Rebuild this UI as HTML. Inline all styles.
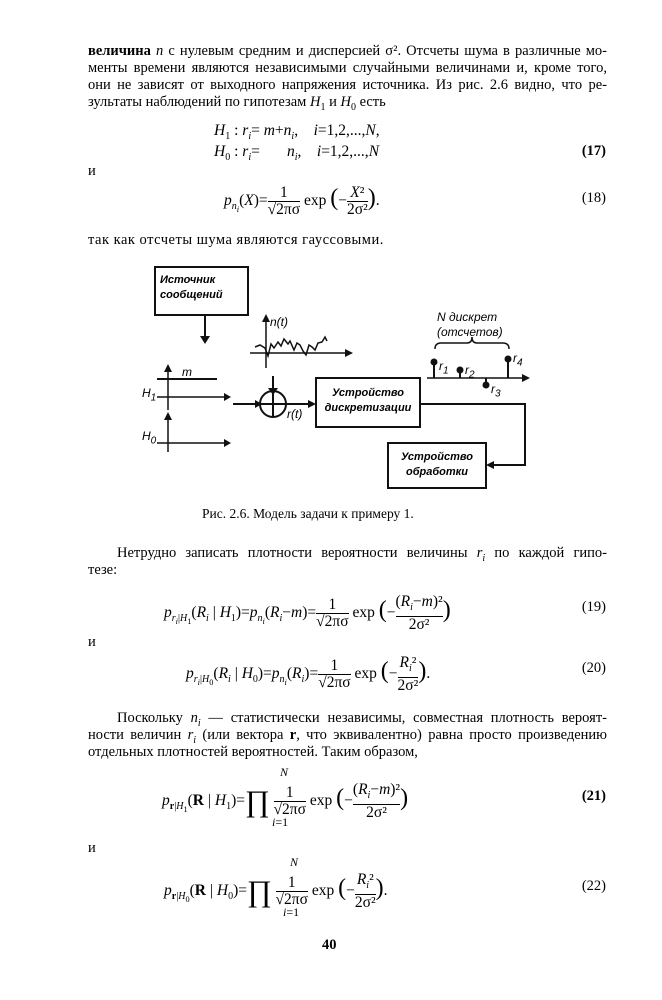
<!DOCTYPE html>
<html><head><meta charset="utf-8"><style>
body{margin:0;background:#fff;}
#p{position:relative;width:662px;height:1000px;overflow:hidden;font-family:"Liberation Serif",serif;color:#000;font-size:14.5px;}
.l{position:absolute;left:88px;width:519px;text-align:justify;text-align-last:justify;white-space:nowrap;line-height:17px;}
.t{position:absolute;white-space:nowrap;line-height:17px;}
.m{font-size:15.5px}
i{font-style:italic}
.f{font-size:10px}
.d{font-family:"Liberation Sans",sans-serif;font-style:italic;font-weight:bold;font-size:11px;}
.fr{display:inline-block;vertical-align:middle;text-align:center;line-height:16px}
.fr span{border-top:1px solid #000;display:block}
</style></head><body><div id="p">
<div class="l" style="top:43px"><b>величина</b> <i>n</i> с нулевым средним и дисперсией σ². Отсчеты шума в различные мо-</div>
<div class="l" style="top:60px">менты времени являются независимыми случайными величинами и, кроме того,</div>
<div class="l" style="top:77px">они не зависят от выходного напряжения источника. Из рис. 2.6 видно, что ре-</div>
<div class="t" style="top:94px;left:88px">зультаты наблюдений по гипотезам <i>H</i><sub class="f">1</sub> и <i>H</i><sub class="f">0</sub> есть</div>
<div class="t m" style="top:122px;left:214px"><i>H</i><sub class="f">1</sub> : <i>r<sub class="f">i</sub></i>= <i>m</i>+<i>n<sub class="f">i</sub></i>,&nbsp;&nbsp;&nbsp; <i>i</i>=1,2,...,<i>N</i>,</div>
<div class="t m" style="top:143px;left:214px"><i>H</i><sub class="f">0</sub> : <i>r<sub class="f">i</sub></i>=&nbsp;&nbsp;&nbsp;&nbsp;&nbsp;&nbsp; <i>n<sub class="f">i</sub></i>,&nbsp;&nbsp;&nbsp; <i>i</i>=1,2,...,<i>N</i></div>
<div class="t" style="top:143px;right:56px"><b>(17)</b></div>
<div class="t" style="top:163px;left:88px">и</div>
<div class="t m" style="top:185px;left:224px"><i>p<sub class="f">n<sub>i</sub></sub></i>(<i>X</i>)=<span class="fr">1<span>√2πσ</span></span> exp <span style="font-size:24px">(</span>−<span class="fr"><i>X</i>²<span>2σ²</span></span><span style="font-size:24px">)</span>.</div>
<div class="t" style="top:190px;right:56px">(18)</div>
<div class="t" style="top:232px;left:88px;letter-spacing:0.5px">так как отсчеты шума являются гауссовыми.</div>

<svg style="position:absolute;left:0;top:0" width="662" height="1000">
<g stroke="#111" fill="none" stroke-width="2">
<rect x="155" y="267" width="93" height="48"/>
<line x1="205" y1="315" x2="205" y2="338"/>
<rect x="316" y="378" width="104" height="49"/>
<rect x="388" y="443" width="98" height="45"/>
<circle cx="273" cy="404" r="13"/>
<line x1="260" y1="404" x2="286" y2="404"/><line x1="273" y1="391" x2="273" y2="417"/>
<line x1="233" y1="404" x2="258" y2="404"/>
<line x1="273" y1="376" x2="273" y2="389"/>
<line x1="286" y1="404" x2="314" y2="404"/>
<polyline points="420,404 525,404 525,465 490,465"/>
<line x1="157" y1="379" x2="217" y2="379"/>
<line stroke-width="1.5" x1="168" y1="410" x2="168" y2="370"/>
<line stroke-width="1.5" x1="157" y1="397" x2="228" y2="397"/>
<line stroke-width="1.5" x1="168" y1="452" x2="168" y2="418"/>
<line stroke-width="1.5" x1="157" y1="443" x2="228" y2="443"/>
<line stroke-width="1.5" x1="266" y1="368" x2="266" y2="318"/>
<line stroke-width="1.5" x1="250" y1="353" x2="350" y2="353"/>
<polyline stroke-width="1.5" points="255,347 260,345 265,348 268,356 271,344 274,348 278,342 281,346 284,339 288,344 290,341 294,350 297,343 300,345 303,351 306,355 309,345 312,347 315,350 318,343 322,342 325,337 327,341"/>
<line stroke-width="1.5" x1="427" y1="378" x2="526" y2="378"/>
<line x1="434" y1="378" x2="434" y2="363"/><line x1="460" y1="378" x2="460" y2="371"/>
<line x1="486" y1="378" x2="486" y2="384"/><line x1="508" y1="378" x2="508" y2="360"/>
<path stroke-width="1.5" d="M435,349 Q435,343 441,343 L467,343 Q472,343 472,337 Q472,343 477,343 L503,343 Q509,343 509,349"/>
</g>
<g fill="#111">
<polygon points="200,336 210,336 205,344"/>
<polygon points="268,388 278,388 273,395"/>
<polygon points="255,400 262,404 255,408"/>
<polygon points="308,400 316,404 308,408"/>
<polygon points="494,461 486,465 494,469"/>
<polygon points="164,372 168,364 172,372"/>
<polygon points="224,393 231,397 224,401"/>
<polygon points="164,420 168,412 172,420"/>
<polygon points="224,439 231,443 224,447"/>
<polygon points="262,322 266,314 270,322"/>
<polygon points="345,349 353,353 345,357"/>
<polygon points="522,374 530,378 522,382"/>
<circle cx="434" cy="362" r="3.5"/><circle cx="460" cy="370" r="3.5"/><circle cx="486" cy="385" r="3.5"/><circle cx="508" cy="359" r="3.5"/>
</g>
</svg>
<div class="t d" style="left:160px;top:273px;line-height:15px">Источник<br>сообщений</div>
<div class="t d" style="left:270px;top:314px;font-weight:normal;font-size:12px">n(t)</div>
<div class="t d" style="left:182px;top:364px;font-weight:normal;font-size:12px">m</div>
<div class="t d" style="left:142px;top:385px;font-weight:normal;font-size:12px">H<sub class="f">1</sub></div>
<div class="t d" style="left:142px;top:428px;font-weight:normal;font-size:12px">H<sub class="f">0</sub></div>
<div class="t d" style="left:287px;top:406px;font-weight:normal;font-size:12px">r(t)</div>
<div class="t d" style="left:318px;width:100px;top:386px;line-height:15px;text-align:center">Устройство<br>дискретизации</div>
<div class="t d" style="left:388px;width:98px;top:450px;line-height:15px;text-align:center">Устройство<br>обработки</div>
<div class="t d" style="left:437px;top:310px;line-height:15px;font-weight:normal;font-size:12px">N дискрет<br>(отсчетов)</div>
<div class="t d" style="left:439px;top:358px;font-weight:normal;font-size:12px">r<sub class="f">1</sub></div>
<div class="t d" style="left:465px;top:362px;font-weight:normal;font-size:12px">r<sub class="f">2</sub></div>
<div class="t d" style="left:491px;top:381px;font-weight:normal;font-size:12px">r<sub class="f">3</sub></div>
<div class="t d" style="left:513px;top:350px;font-weight:normal;font-size:12px">r<sub class="f">4</sub></div>

<div class="t" style="top:505px;left:202px;font-size:13.5px">Рис. 2.6. Модель задачи к примеру 1.</div>
<div class="l" style="top:545px;left:117px;width:490px">Нетрудно записать плотности вероятности величины <i>r<sub class="f">i</sub></i> по каждой гипо-</div>
<div class="t" style="top:562px;left:88px">тезе:</div>
<div class="t m" style="top:594px;left:164px"><i>p</i><sub class="f"><i>r<sub>i</sub></i>|<i>H</i><sub>1</sub></sub>(<i>R<sub class="f">i</sub></i> | <i>H</i><sub class="f">1</sub>)=<i>p<sub class="f">n<sub>i</sub></sub></i>(<i>R<sub class="f">i</sub></i>−<i>m</i>)=<span class="fr">1<span>√2πσ</span></span> exp <span style="font-size:24px">(</span>−<span class="fr">(<i>R<sub class="f">i</sub></i>−<i>m</i>)²<span>2σ²</span></span><span style="font-size:24px">)</span></div>
<div class="t" style="top:599px;right:56px">(19)</div>
<div class="t" style="top:634px;left:88px">и</div>
<div class="t m" style="top:655px;left:186px"><i>p</i><sub class="f"><i>r<sub>i</sub></i>|<i>H</i><sub>0</sub></sub>(<i>R<sub class="f">i</sub></i> | <i>H</i><sub class="f">0</sub>)=<i>p<sub class="f">n<sub>i</sub></sub></i>(<i>R<sub class="f">i</sub></i>)=<span class="fr">1<span>√2πσ</span></span> exp <span style="font-size:24px">(</span>−<span class="fr"><i>R<sub class="f">i</sub></i>²<span>2σ²</span></span><span style="font-size:24px">)</span>.</div>
<div class="t" style="top:660px;right:56px">(20)</div>
<div class="l" style="top:710px;left:117px;width:490px">Поскольку <i>n<sub class="f">i</sub></i> — статистически независимы, совместная плотность вероят-</div>
<div class="l" style="top:727px">ности величин <i>r<sub class="f">i</sub></i> (или вектора <b>r</b>, что эквивалентно) равна просто произведению</div>
<div class="t" style="top:744px;left:88px">отдельных плотностей вероятностей. Таким образом,</div>
<div class="t" style="top:764px;left:280px;font-size:12px"><i>N</i></div>
<div class="t m" style="top:782px;left:162px"><i>p</i><sub class="f"><b>r</b>|<i>H</i><sub>1</sub></sub>(<b>R</b> | <i>H</i><sub class="f">1</sub>)=<span style="font-size:30px;vertical-align:middle">∏</span> <span class="fr">1<span>√2πσ</span></span> exp <span style="font-size:24px">(</span>−<span class="fr">(<i>R<sub class="f">i</sub></i>−<i>m</i>)²<span>2σ²</span></span><span style="font-size:24px">)</span></div>
<div class="t" style="top:814px;left:272px;font-size:12px"><i>i</i>=1</div>
<div class="t" style="top:788px;right:56px"><b>(21)</b></div>
<div class="t" style="top:840px;left:88px">и</div>
<div class="t" style="top:854px;left:290px;font-size:12px"><i>N</i></div>
<div class="t m" style="top:872px;left:164px"><i>p</i><sub class="f"><b>r</b>|<i>H</i><sub>0</sub></sub>(<b>R</b> | <i>H</i><sub class="f">0</sub>)=<span style="font-size:30px;vertical-align:middle">∏</span> <span class="fr">1<span>√2πσ</span></span> exp <span style="font-size:24px">(</span>−<span class="fr"><i>R<sub class="f">i</sub></i>²<span>2σ²</span></span><span style="font-size:24px">)</span>.</div>
<div class="t" style="top:904px;left:283px;font-size:12px"><i>i</i>=1</div>
<div class="t" style="top:878px;right:56px">(22)</div>
<div class="t" style="top:937px;left:322px"><b>40</b></div>
</div></body></html>
